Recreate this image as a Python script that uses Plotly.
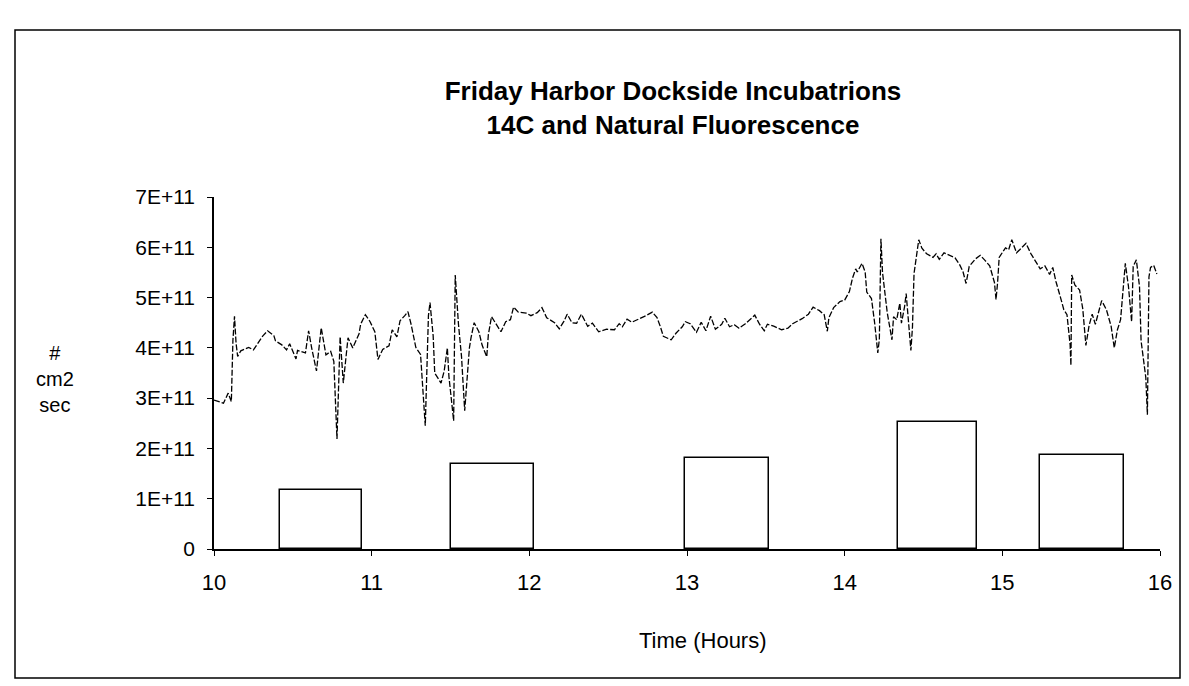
import plotly.graph_objects as go

# ---- data ----
# Natural fluorescence time series: time in hours, value in units of 1E+11
fl_hours = [10.00, 10.06, 10.09, 10.11, 10.12, 10.13, 10.14, 10.15, 10.17, 10.22, 10.25, 10.28, 10.31, 10.34,
            10.38, 10.39, 10.43, 10.46, 10.48, 10.52, 10.53, 10.58, 10.60, 10.62, 10.65, 10.68, 10.71, 10.74,
            10.76, 10.78, 10.80, 10.82, 10.85, 10.88, 10.92, 10.93, 10.96, 10.99, 11.02, 11.04, 11.07, 11.11,
            11.13, 11.16, 11.18, 11.21, 11.23, 11.25, 11.28, 11.31, 11.34, 11.36, 11.37, 11.39, 11.40, 11.44,
            11.46, 11.48, 11.49, 11.52, 11.53, 11.55, 11.57, 11.59, 11.62, 11.63, 11.65, 11.68, 11.70, 11.73,
            11.74, 11.76, 11.79, 11.82, 11.85, 11.88, 11.90, 11.93, 11.98, 12.01, 12.05, 12.08, 12.11, 12.16,
            12.19, 12.22, 12.24, 12.27, 12.30, 12.33, 12.37, 12.40, 12.44, 12.49, 12.54, 12.57, 12.59, 12.62,
            12.65, 12.70, 12.74, 12.78, 12.81, 12.83, 12.85, 12.90, 12.93, 12.97, 12.99, 13.02, 13.06, 13.09,
            13.12, 13.15, 13.18, 13.22, 13.24, 13.27, 13.30, 13.33, 13.37, 13.43, 13.46, 13.49, 13.51, 13.55,
            13.60, 13.64, 13.67, 13.73, 13.77, 13.80, 13.84, 13.87, 13.89, 13.90, 13.93, 13.97, 14.00, 14.03,
            14.05, 14.07, 14.08, 14.11, 14.13, 14.14, 14.17, 14.19, 14.21, 14.22, 14.23, 14.24, 14.26, 14.27,
            14.30, 14.31, 14.33, 14.35, 14.36, 14.38, 14.39, 14.42, 14.43, 14.44, 14.47, 14.49, 14.52, 14.56,
            14.58, 14.60, 14.63, 14.67, 14.70, 14.73, 14.75, 14.77, 14.79, 14.83, 14.86, 14.89, 14.92, 14.95,
            14.96, 14.97, 14.98, 15.02, 15.04, 15.06, 15.09, 15.11, 15.15, 15.18, 15.21, 15.24, 15.27, 15.30,
            15.32, 15.34, 15.37, 15.39, 15.41, 15.42, 15.43, 15.435, 15.44, 15.46, 15.49, 15.51, 15.53, 15.55,
            15.57, 15.59, 15.61, 15.63, 15.66, 15.69, 15.71, 15.73, 15.75, 15.77, 15.78, 15.80, 15.82, 15.83,
            15.85, 15.87, 15.88, 15.91, 15.92, 15.93, 15.94, 15.96, 15.98]
fl_values_e11 = [2.96, 2.90, 3.10, 2.93, 4.15, 4.63, 4.09, 3.83, 3.94, 4.01, 3.96, 4.10, 4.24, 4.34,
                 4.24, 4.14, 4.06, 3.96, 4.08, 3.78, 3.95, 3.90, 4.34, 3.99, 3.54, 4.40, 3.86, 3.93,
                 3.73, 2.19, 4.22, 3.30, 4.20, 4.00, 4.28, 4.47, 4.66, 4.52, 4.32, 3.77, 3.97, 4.04,
                 4.36, 4.22, 4.54, 4.64, 4.72, 4.47, 4.01, 3.87, 2.45, 4.64, 4.90, 4.24, 3.50, 3.30,
                 3.54, 4.00, 3.43, 2.55, 5.45, 4.49, 3.82, 2.75, 4.00, 4.20, 4.50, 4.32, 4.06, 3.82,
                 4.26, 4.62, 4.46, 4.32, 4.52, 4.56, 4.81, 4.71, 4.69, 4.64, 4.70, 4.80, 4.60, 4.50,
                 4.38, 4.53, 4.67, 4.50, 4.49, 4.67, 4.43, 4.49, 4.32, 4.37, 4.36, 4.48, 4.42, 4.57,
                 4.51, 4.58, 4.64, 4.71, 4.60, 4.43, 4.23, 4.16, 4.29, 4.42, 4.52, 4.48, 4.31, 4.51,
                 4.34, 4.63, 4.37, 4.47, 4.59, 4.42, 4.46, 4.39, 4.48, 4.65, 4.47, 4.34, 4.47, 4.43,
                 4.36, 4.39, 4.48, 4.58, 4.67, 4.81, 4.74, 4.66, 4.33, 4.60, 4.80, 4.92, 4.95, 5.12,
                 5.39, 5.57, 5.51, 5.68, 5.51, 5.11, 4.98, 4.50, 3.90, 4.17, 6.17, 5.50, 4.90, 4.70,
                 4.16, 4.62, 4.56, 4.89, 4.49, 4.82, 5.08, 3.95, 4.41, 5.48, 6.15, 5.98, 5.87, 5.80,
                 5.87, 5.76, 5.89, 5.83, 5.79, 5.65, 5.52, 5.28, 5.62, 5.77, 5.84, 5.74, 5.63, 5.30,
                 4.96, 5.30, 5.80, 5.99, 5.95, 6.15, 5.89, 5.95, 6.08, 5.88, 5.71, 5.57, 5.63, 5.46,
                 5.60, 5.32, 4.99, 4.76, 4.66, 4.32, 4.06, 3.65, 5.45, 5.25, 5.15, 4.78, 4.05, 4.44,
                 4.67, 4.47, 4.70, 4.94, 4.76, 4.43, 4.00, 4.36, 4.56, 5.35, 5.68, 5.22, 4.52, 5.62,
                 5.75, 5.22, 4.14, 3.41, 2.67, 5.41, 5.60, 5.64, 5.47]

# 14C incubations: start / end time (hours) and level (1E+11)
inc_start = [10.42, 11.50, 12.99, 14.34, 15.24]
inc_end = [10.94, 12.03, 13.52, 14.84, 15.77]
inc_level_e11 = [1.17, 1.69, 1.81, 2.53, 1.87]

x_ticks = [10, 11, 12, 13, 14, 15, 16]
y_tick_vals_e11 = [0, 1, 2, 3, 4, 5, 6, 7]
y_tick_text = ["0", "1E+11", "2E+11", "3E+11", "4E+11", "5E+11", "6E+11", "7E+11"]

SCALE = 1e11
FONT = "Liberation Sans, Arial, Helvetica, sans-serif"

fig = go.Figure()

# incubation boxes as open bars
fig.add_trace(go.Bar(
    x=[(s + e) / 2 for s, e in zip(inc_start, inc_end)],
    y=[v * SCALE for v in inc_level_e11],
    width=[e - s for s, e in zip(inc_start, inc_end)],
    marker=dict(color="rgba(255,255,255,0)", line=dict(color="black", width=1.5)),
    showlegend=False, hoverinfo="skip",
))

# fluorescence dashed line
fig.add_trace(go.Scatter(
    x=fl_hours, y=[v * SCALE for v in fl_values_e11],
    mode="lines",
    line=dict(color="black", width=1.3, dash="6px,2px"),
    showlegend=False,
))

W, H = 1189, 686
L, R, T, B = 206, 37, 189, 145
pw, ph = W - L - R, H - T - B

def px_to_paper_x(px):
    return (px - L) / pw

def py_to_paper_y(py):
    return (H - B - py) / ph

fig.update_layout(
    width=W, height=H,
    margin=dict(l=L, r=R, t=T, b=B),
    paper_bgcolor="white", plot_bgcolor="white",
    font=dict(family=FONT, color="black", size=21),
    title=dict(
        text="Friday Harbor Dockside Incubatrions<br>14C and Natural Fluorescence",
        font=dict(family=FONT, size=26, color="black", weight="bold"),
        xref="container", yref="container",
        x=665 / W, xanchor="center",
        y=1 - 92 / H, yanchor="middle",
    ),
    bargap=0,
    xaxis=dict(
        range=[10, 16], tickvals=x_ticks, ticktext=[str(t) for t in x_ticks],
        showgrid=False, zeroline=False,
        showline=True, linecolor="black", linewidth=1.5,
        ticks="outside", ticklen=5, tickwidth=1.2, tickcolor="black",
        ticklabelstandoff=8,
        tickfont=dict(size=22),
    ),
    yaxis=dict(
        range=[0, 7 * SCALE],
        tickvals=[v * SCALE for v in y_tick_vals_e11], ticktext=y_tick_text,
        showgrid=False, zeroline=False,
        showline=True, linecolor="black", linewidth=1.5,
        ticks="outside", ticklen=5, tickwidth=1.2, tickcolor="black",
        ticklabelstandoff=8,
        tickfont=dict(size=21),
    ),
    annotations=[
        dict(text="Time (Hours)", xref="paper", yref="paper",
             x=px_to_paper_x(695), y=py_to_paper_y(632),
             xanchor="center", yanchor="middle", showarrow=False,
             font=dict(size=22)),
        dict(text="#<br>cm2<br>sec", xref="paper", yref="paper",
             x=px_to_paper_x(47), y=py_to_paper_y(371),
             xanchor="center", yanchor="middle", showarrow=False,
             align="center", font=dict(size=20)),
    ],
    shapes=[
        dict(type="rect", xref="paper", yref="paper",
             x0=px_to_paper_x(7), x1=px_to_paper_x(1172),
             y0=py_to_paper_y(670), y1=py_to_paper_y(22),
             line=dict(color="black", width=1.5), fillcolor="rgba(0,0,0,0)", layer="below"),
    ],
)

fig.write_html("out.html")
